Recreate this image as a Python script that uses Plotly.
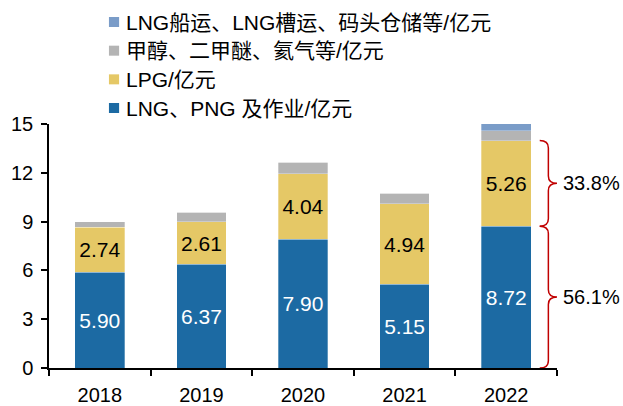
import plotly.graph_objects as go

years = ["2018", "2019", "2020", "2021", "2022"]
lng_png = [5.90, 6.37, 7.90, 5.15, 8.72]
lpg = [2.74, 2.61, 4.04, 4.94, 5.26]
methanol = [0.36, 0.60, 0.71, 0.65, 0.61]
lng_ship = [0, 0, 0, 0, 0.96]
share_labels = ["56.1%", "33.8%"]

names = [
    "LNG、PNG 及作业/亿元",
    "LPG/亿元",
    "甲醇、二甲醚、氦气等/亿元",
    "LNG船运、LNG槽运、码头仓储等/亿元",
]
colors = ["#1C6AA3", "#E5C866", "#B4B4B4", "#7A9CC8"]
font = "Arial, Liberation Sans, Noto Sans CJK SC"

fig = go.Figure()
series = [lng_png, lpg, methanol, lng_ship]
for i, vals in enumerate(series):
    show_text = i < 2
    fig.add_trace(go.Bar(
        x=years,
        y=vals,
        name=names[i],
        showlegend=False,
        marker=dict(color=colors[i], line=dict(color="rgba(255,255,255,0.6)", width=0.5)),
        text=[f"{v:.2f}" for v in vals] if show_text else None,
        textposition="inside" if show_text else "none",
        insidetextanchor="middle",
        textfont=dict(size=21, color="white" if i == 0 else "black", family=font),
        hoverinfo="skip",
    ))

# legend drawn by hand (top row = top of stack), so it can sit tight above the plot
row_top, row_step = 1.418, 0.1175
for k, i in enumerate(reversed(range(len(names)))):
    yc = row_top - k * row_step
    fig.add_shape(type="rect", xref="paper", yref="paper",
                  x0=0.118, x1=0.138, y0=yc - 0.0205, y1=yc + 0.0205,
                  fillcolor=colors[i], line_width=0)
    fig.add_annotation(x=0.147, y=yc, xref="paper", yref="paper",
                       text=names[i], showarrow=False,
                       xanchor="left", yanchor="middle",
                       font=dict(size=21, color="black", family=font))

# curly braces for the 2022 shares
lo = lng_png[-1]
hi = lng_png[-1] + lpg[-1]
red = "#C00000"
r = 0.45
xv, xt, xm = 0.983, 0.966, 1.0


def brace(y0, y1):
    ym = (y0 + y1) / 2
    return (f"M {xt},{y1} Q {xv},{y1} {xv},{y1 - r} L {xv},{ym + r} "
            f"Q {xv},{ym} {xm},{ym} Q {xv},{ym} {xv},{ym - r} "
            f"L {xv},{y0 + r} Q {xv},{y0} {xt},{y0}")


for (y0, y1), lab in zip([(0, lo), (lo, hi)], share_labels):
    fig.add_shape(type="path", path=brace(y0, y1), xref="paper", yref="y",
                  line=dict(color=red, width=1.5))
    fig.add_annotation(x=1.008, y=(y0 + y1) / 2, xref="paper", yref="y",
                       text=lab, showarrow=False, xanchor="left",
                       font=dict(size=20, color="black", family=font))

fig.update_layout(
    width=623,
    height=406,
    margin=dict(l=49, r=66, t=124, b=38),
    barmode="stack",
    bargap=0.51,
    plot_bgcolor="white",
    paper_bgcolor="white",
    font=dict(family=font, size=20, color="black"),
    uniformtext=dict(minsize=10, mode="show"),
    xaxis=dict(
        showline=True, linecolor="black", linewidth=1.5,
        ticks="outside", tickson="boundaries", ticklen=6, tickwidth=1.5,
        tickcolor="black", tickfont=dict(size=20), ticklabelstandoff=8,
        automargin=False,
    ),
    yaxis=dict(
        range=[0, 15], tickvals=[0, 3, 6, 9, 12, 15],
        showline=True, linecolor="black", linewidth=1.5,
        ticks="outside", ticklen=6, tickwidth=1.5, tickcolor="black",
        showgrid=False, zeroline=False, tickfont=dict(size=20),
        ticklabelstandoff=4, automargin=False,
    ),
)

# drop the default page margin so the figure fills the window exactly
fig.write_html(
    "out.html",
    config={"displayModeBar": False},
    post_script="document.body.style.margin='0';document.body.style.overflow='hidden';",
)
